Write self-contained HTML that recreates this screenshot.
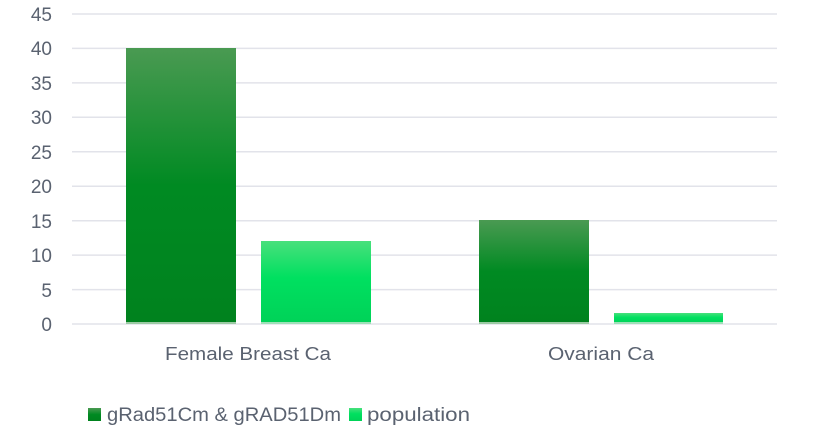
<!DOCTYPE html>
<html><head><meta charset="utf-8"><style>
html,body{margin:0;padding:0;background:#fff;}
svg{display:block;}
text{font-family:"Liberation Sans",sans-serif;fill:#5a6270;}
</style></head><body>
<svg width="813" height="443" viewBox="0 0 813 443">
<defs>
<linearGradient id="g1" x1="0" y1="0" x2="0" y2="1">
<stop offset="0" stop-color="#4a9a52"/><stop offset="0.5" stop-color="#008a22"/><stop offset="1" stop-color="#00821e"/>
</linearGradient>
<linearGradient id="g2" x1="0" y1="0" x2="0" y2="1">
<stop offset="0" stop-color="#48e07c"/><stop offset="0.45" stop-color="#00e060"/><stop offset="1" stop-color="#00d258"/>
</linearGradient>
</defs>
<g stroke="#e2e3ea" stroke-width="1.5">
<line x1="72" x2="777" y1="14" y2="14"/><line x1="72" x2="777" y1="48.4" y2="48.4"/>
<line x1="72" x2="777" y1="82.9" y2="82.9"/><line x1="72" x2="777" y1="117.3" y2="117.3"/>
<line x1="72" x2="777" y1="151.8" y2="151.8"/><line x1="72" x2="777" y1="186.2" y2="186.2"/>
<line x1="72" x2="777" y1="220.7" y2="220.7"/><line x1="72" x2="777" y1="255.1" y2="255.1"/>
<line x1="72" x2="777" y1="289.6" y2="289.6"/><line x1="72" x2="777" y1="324" y2="324"/>
</g>
<g font-size="19" text-anchor="end">
<text x="52" y="21">45</text><text x="52" y="55">40</text><text x="52" y="90">35</text>
<text x="52" y="124">30</text><text x="52" y="159">25</text><text x="52" y="193">20</text>
<text x="52" y="228">15</text><text x="52" y="262">10</text><text x="52" y="297">5</text>
<text x="52" y="331">0</text>
</g>
<rect x="126" y="48" width="110" height="275" fill="url(#g1)"/>
<rect x="261" y="241" width="110" height="82" fill="url(#g2)"/>
<rect x="479" y="220" width="110" height="103" fill="url(#g1)"/>
<rect x="614" y="313" width="109" height="10" fill="url(#g2)"/>
<rect x="126" y="322" width="110" height="2" fill="#9ccaa4"/>
<rect x="261" y="322" width="110" height="2" fill="#9ee0b8"/>
<rect x="479" y="322" width="110" height="2" fill="#9ccaa4"/>
<rect x="614" y="322" width="109" height="2" fill="#9ee0b8"/>
<text x="165" y="360" font-size="18" textLength="166" lengthAdjust="spacingAndGlyphs">Female Breast Ca</text>
<text x="548" y="360" font-size="18" textLength="106" lengthAdjust="spacingAndGlyphs">Ovarian Ca</text>
<rect x="88" y="408" width="13" height="13" fill="url(#g1)"/>
<text x="107" y="421" font-size="19" textLength="234" lengthAdjust="spacingAndGlyphs">gRad51Cm &amp; gRAD51Dm</text>
<rect x="349" y="408" width="13" height="13" fill="url(#g2)"/>
<text x="367" y="421" font-size="19" textLength="103" lengthAdjust="spacingAndGlyphs">population</text>
</svg>
</body></html>
